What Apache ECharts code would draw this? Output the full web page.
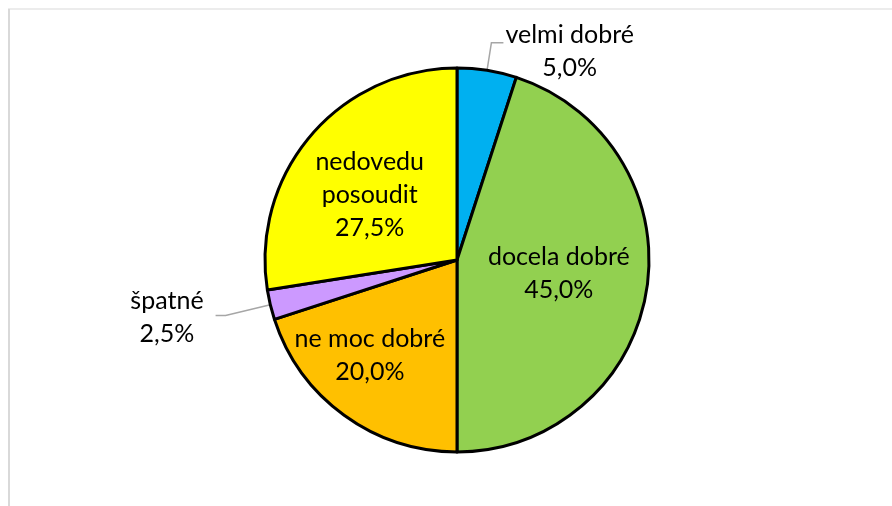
<!DOCTYPE html>
<html>
<head>
<meta charset="utf-8">
<script src="https://cdn.jsdelivr.net/npm/echarts@6/dist/echarts.min.js"></script>
<style>
    html, body { margin: 0; padding: 0; background: #fff; }
    #chart { width: 892px; height: 506px; }
</style>
</head>
<body>
<div id="chart"></div>
<script>
    // hodnoty z grafu (v procentech)
    let categories = ['velmi dobré', 'docela dobré', 'ne moc dobré', 'špatné', 'nedovedu posoudit'];
    let values = [5.0, 45.0, 20.0, 2.5, 27.5];
    let colors = ['#00B0F0', '#92D050', '#FFC000', '#CC99FF', '#FFFF00'];
    let labelTexts = ['velmi dobré', 'docela dobré', 'ne moc dobré', 'špatné', 'nedovedu\nposoudit'];

    let outside = [true, false, false, true, false];
    let offsets = [[0, 0], [4, -2], [-29, 15], [0, 0], [-12, -1]];
    // posun popisku venku (text centrovany, cara zustava)
    let outShift = [[-3, 9], [0, 0], [0, 0], [-7, 2], [0, 0]];

    let chart = echarts.init(document.getElementById('chart'));

    let data = categories.map(function (name, i) {
        let item = {
            name: name,
            value: values[i],
            itemStyle: {color: colors[i]},
            label: {
                formatter: labelTexts[i] + '\n' + values[i].toFixed(1).replace('.', ',') + '%'
            }
        };
        if (outside[i]) {
            item.label.position = 'outside';
            item.label.alignTo = 'none';
            if (i === 0) {
                item.labelLine = {length: 28, length2: 12};
            } else {
                item.labelLine = {length: 46, length2: 10};
            }
        } else {
            item.label.position = 'inside';
            item.label.offset = offsets[i];
            item.labelLine = {show: false};
        }
        return item;
    });

    chart.setOption({
        animation: false,
        graphic: [
            {type: 'line', shape: {x1: 8, y1: 9, x2: 892, y2: 9}, style: {stroke: '#d9d9d9', lineWidth: 1}},
            {type: 'line', shape: {x1: 9, y1: 9, x2: 9, y2: 506}, style: {stroke: '#d9d9d9', lineWidth: 2}}
        ],
        series: [
            {
                type: 'pie',
                center: [457, 260],
                radius: 192,
                startAngle: 90,
                clockwise: true,
                avoidLabelOverlap: false,
                itemStyle: {borderColor: '#000', borderWidth: 3},
                label: {
                    color: '#000',
                    fontFamily: 'Lato',
                    fontSize: 25,
                    lineHeight: 33,
                    align: 'center'
                },
                labelLine: {
                    lineStyle: {color: '#a6a6a6', width: 1.5}
                },
                labelLayout: function (params) {
                    let i = params.dataIndex;
                    if (!outside[i]) {
                        return {};
                    }
                    let r = params.labelRect;
                    return {
                        x: r.x + r.width / 2 + outShift[i][0],
                        y: r.y + r.height / 2 + outShift[i][1],
                        align: 'center',
                        verticalAlign: 'middle',
                        labelLinePoints: params.labelLinePoints
                    };
                },
                emphasis: {disabled: true},
                data: data
            }
        ]
    });
</script>
</body>
</html>
